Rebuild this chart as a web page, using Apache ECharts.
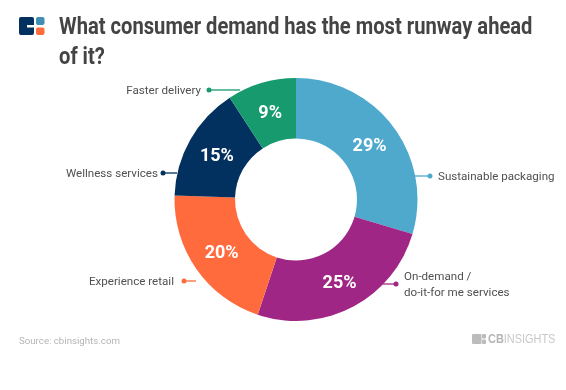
<!DOCTYPE html>
<html><head><meta charset="utf-8">
<style>html,body{margin:0;padding:0;background:#fff}#c{width:566px;height:390px}</style>
<script src="https://cdn.jsdelivr.net/npm/echarts@6/dist/echarts.min.js"></script>
</head><body><div id="c"></div>
<script>
const categories = ['Sustainable packaging', 'On-demand /\ndo-it-for me services', 'Experience retail', 'Wellness services', 'Faster delivery'];
const values = [29, 25, 20, 15, 9];
const colors = ['#4FA9CD', '#A02685', '#FF6B3D', '#03315F', '#179A6E'];
const titleLines = ['What consumer demand has the most runway ahead', 'of it?'];
const sourceText = 'Source: cbinsights.com';

// Label anchor and leader-line layout: [labelX, labelY, align, lineFromX, lineToX, lineY]
const callouts = [
  [438, 177, 'left', 415, 430, 176],
  [404, 285, 'left', 383, 396, 284],
  [174, 282, 'right', 196, 184, 281],
  [158, 174, 'right', 177, 163, 173],
  [201, 91, 'right', 240, 209, 90]
];
// In-ring percentage label nudges
const valueNudge = [[-2, 3], [0, 0], [3, 0], [3, 3], [1, 4]];
const center = [296, 199.5];
const radius = [61, 121.5];

const chart = echarts.init(document.getElementById('c'), null, {renderer: 'canvas'});
const data = categories.map((name, i) => ({name, value: values[i], itemStyle: {color: colors[i]}}));

const graphic = [];
callouts.forEach((c, i) => {
  graphic.push({type: 'line', z: 5, shape: {x1: c[3], y1: c[5], x2: c[4], y2: c[5]}, style: {stroke: colors[i], lineWidth: 1.3}});
  graphic.push({type: 'circle', z: 5, shape: {cx: c[4], cy: c[5], r: 2.5}, style: {fill: colors[i]}});
});
titleLines.forEach((t, i) => {
  graphic.push({type: 'text', x: 59, y: 16 + i * 30, scaleX: 0.84, style: {text: t, fill: '#444444', font: 'bold 24px Roboto'}});
});
graphic.push({type: 'text', x: 19, y: 337, style: {text: sourceText, fill: '#b5b5b5', font: '9.7px Roboto'}});
// Brand logo top-left
[[19, 17, 15, 18, '#03315F'], [36, 17, 8.5, 8, '#3F8FB5'], [36, 27.5, 8.5, 7.5, '#FF6B3D']].forEach(r => {
  graphic.push({type: 'rect', shape: {x: r[0], y: r[1], width: r[2], height: r[3], r: 2}, style: {fill: r[4]}});
});
graphic.push({type: 'rect', shape: {x: 27, y: 25, width: 7, height: 2.5}, style: {fill: '#fff'}});
// Brand logo bottom-right
[[472, 334, 9.5, 10], [482, 334, 4, 4.5], [482, 339.5, 4, 4.5]].forEach(r => {
  graphic.push({type: 'rect', shape: {x: r[0], y: r[1], width: r[2], height: r[3], r: 1}, style: {fill: '#bcbcbc'}});
});
graphic.push({type: 'text', x: 488, y: 333, scaleX: 0.84, style: {
  rich: {a: {font: 'bold 13px "Liberation Sans"', fill: '#b4b4b4'}, b: {font: '13px "Liberation Sans"', fill: '#c8c8c8'}},
  text: '{a|CB}{b|INSIGHTS}'}});

chart.setOption({
  animation: false,
  backgroundColor: '#ffffff',
  graphic: graphic,
  series: [{
    type: 'pie',
    center: center,
    radius: radius,
    startAngle: 90,
    clockwise: true,
    z: 3,
    data: data,
    label: {show: true, position: 'inside', formatter: p => p.value + '%', color: '#fff',
      fontFamily: 'Roboto', fontWeight: 'bold', fontSize: 18},
    labelLine: {show: false},
    labelLayout: p => ({dx: valueNudge[p.dataIndex][0], dy: valueNudge[p.dataIndex][1]}),
    emphasis: {disabled: true}
  }, {
    type: 'pie',
    center: center,
    radius: radius,
    startAngle: 90,
    silent: true,
    z: 1,
    itemStyle: {color: 'rgba(0,0,0,0)'},
    data: data.map(d => ({name: d.name, value: d.value})),
    label: {show: true, position: 'outside', formatter: '{b}', color: '#505050',
      fontFamily: 'Roboto', fontSize: 11.6, lineHeight: 16, overflow: 'none', width: 160},
    labelLine: {show: false},
    labelLayout: p => {
      const c = callouts[p.dataIndex];
      return {x: c[0], y: c[1], align: c[2], verticalAlign: 'middle'};
    }
  }]
});
</script></body></html>
